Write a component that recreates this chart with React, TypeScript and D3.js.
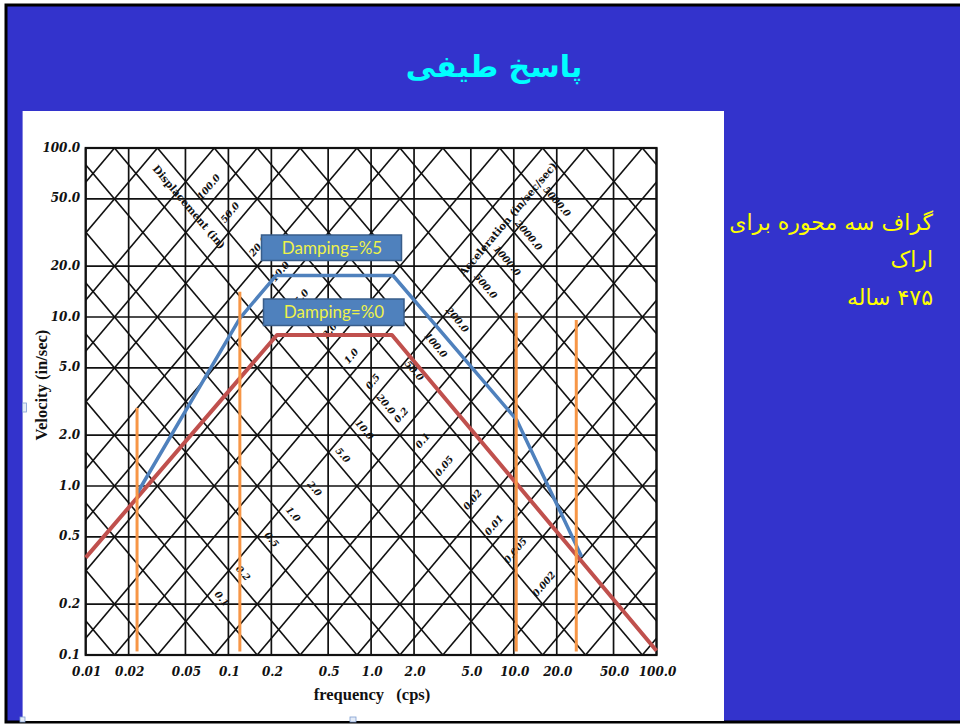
import React from "react";
import * as d3 from "d3";

// Axis ticks of the tripartite (log-log) spectrum chart
const freqTicks = [0.01, 0.02, 0.05, 0.1, 0.2, 0.5, 1, 2, 5, 10, 20, 50, 100];
const freqTickLabels = ["0.01", "0.02", "0.05", "0.1", "0.2", "0.5", "1.0", "2.0", "5.0", "10.0", "20.0", "50.0", "100.0"];
const velTicks = [0.1, 0.2, 0.5, 1, 2, 5, 10, 20, 50, 100];
const velTickLabels = ["0.1", "0.2", "0.5", "1.0", "2.0", "5.0", "10.0", "20.0", "50.0", "100.0"];

// Diagonal grid: 1-2-5 steps per decade for displacement (in) and acceleration (in/sec/sec)
const gridSteps = [1, 2, 5];
const dispDecades = [-4, -3, -2, -1, 0, 1, 2, 3];
const accDecades = [-3, -2, -1, 0, 1, 2, 3, 4];

const dispValues = [100, 50, 20, 10, 5, 2, 1, 0.5, 0.2, 0.1, 0.05, 0.02, 0.01, 0.005, 0.002];
const dispLabels = ["100.0", "50.0", "20.0", "10.0", "5.0", "2.0", "1.0", "0.5", "0.2", "0.1", "0.05", "0.02", "0.01", "0.005", "0.002"];
const accValues = [5000, 2000, 1000, 500, 200, 100, 50, 20, 10, 5, 2, 1, 0.5, 0.2, 0.1];
const accLabels = ["5000.0", "2000.0", "1000.0", "500.0", "200.0", "100.0", "50.0", "20.0", "10.0", "5.0", "2.0", "1.0", "0.5", "0.2", "0.1"];

// Design spectra (frequency in cps, velocity in in/sec)
const undampedFreq = [0.01, 0.219, 1.4, 100];
const undampedVel = [0.377, 7.83, 7.83, 0.106];
const dampedFreq = [0.023, 0.1206, 0.2156, 1.424, 10.48, 29.9];
const dampedVel = [0.909, 9.86, 17.6, 17.6, 2.46, 0.382];

// Vertical period markers
const markerFreq = [0.0229, 0.1203, 10.4, 27.4];
const markerTopVel = [2.9, 14.1, 10.6, 9.6];
const markerBaseVel = 0.105;

const TWO_PI = 2 * Math.PI;
const W = 960;
const H = 725;

const numFont = "'DejaVu Serif', serif";
const titleFont = "'Liberation Serif', serif";
const arabicFont = "'DejaVu Sans', sans-serif";

export default function App() {
  const x = d3.scaleLog().domain([0.01, 100]).range([85.7, 656.5]);
  const y = d3.scaleLog().domain([0.1, 100]).range([655, 148]);
  const [x0, x1] = x.range();
  const [y0, y1] = y.range();

  const line = d3
    .line<[number, number]>()
    .x((d) => x(d[0]))
    .y((d) => y(d[1]));

  const dispGrid: number[] = [];
  dispDecades.forEach((k) => gridSteps.forEach((s) => dispGrid.push(s * Math.pow(10, k))));
  const accGrid: number[] = [];
  accDecades.forEach((k) => gridSteps.forEach((s) => accGrid.push(s * Math.pow(10, k))));

  const fLo = 0.0005;
  const fHi = 2000;

  // pixel angle of a slope +1 line in log-log space
  const ang = (Math.atan((y0 - y1) / 3 / ((x1 - x0) / 4)) * 180) / Math.PI;

  const dispLabelPos = dispValues.map((D) => {
    const k = Math.log10(TWO_PI * D) + 0.11;
    const c = 0.63;
    const u = (c - k) / 2;
    const w = (c + k) / 2;
    return [x(Math.pow(10, u)), y(Math.pow(10, w))];
  });
  const accLabelPos = accValues.map((A) => {
    const k = Math.log10(A / TWO_PI) + 0.085;
    const c = 0.38;
    const u = (k - c) / 2;
    const w = (k + c) / 2;
    return [x(Math.pow(10, u)), y(Math.pow(10, w))];
  });

  const undamped = undampedFreq.map((f, i) => [f, undampedVel[i]] as [number, number]);
  const damped = dampedFreq.map((f, i) => [f, dampedVel[i]] as [number, number]);

  return (
    <svg
      width={W}
      height={H}
      style={{ position: "absolute", left: 0, top: 0, background: "#fff" }}
    >
      <defs>
        <clipPath id="plot-area">
          <rect x={x0} y={y1} width={x1 - x0} height={y0 - y1} />
        </clipPath>
      </defs>

      {/* slide background */}
      <rect x={6} y={5} width={980} height={717} fill="#3333CC" stroke="#000" strokeWidth={3} />

      {/* slide title */}
      <text
        x={494}
        y={77}
        fill="#00FFFF"
        fontFamily={arabicFont}
        fontWeight="bold"
        fontSize={30}
        textAnchor="middle"
        direction="rtl"
      >
        پاسخ طیفی
      </text>

      {/* side note */}
      <g fill="#FFFF00" fontFamily={arabicFont} fontSize={22} direction="rtl" textAnchor="start">
        <text x={933} y={230}>گراف سه محوره برای</text>
        <text x={933} y={267}>اراک</text>
        <text x={933} y={305}>۴۷۵ ساله</text>
      </g>

      {/* chart panel */}
      <rect x={22.6} y={111} width={701.4} height={610} fill="#fff" />

      {/* rectangular grid */}
      <g stroke="#111" strokeWidth={1.7}>
        {freqTicks.map((f) => (
          <line key={"v" + f} x1={x(f)} x2={x(f)} y1={y1} y2={y0} />
        ))}
        {velTicks.map((v) => (
          <line key={"h" + v} x1={x0} x2={x1} y1={y(v)} y2={y(v)} />
        ))}
      </g>

      {/* diagonal grid */}
      <g clipPath="url(#plot-area)" stroke="#111" strokeWidth={1.6} fill="none">
        {dispGrid.map((D) => (
          <path key={"d" + D} d={line([[fLo, TWO_PI * fLo * D], [fHi, TWO_PI * fHi * D]]) || ""} />
        ))}
        {accGrid.map((A) => (
          <path key={"a" + A} d={line([[fLo, A / (TWO_PI * fLo)], [fHi, A / (TWO_PI * fHi)]]) || ""} />
        ))}
      </g>
      <rect x={x0} y={y1} width={x1 - x0} height={y0 - y1} fill="none" stroke="#111" strokeWidth={2.2} />

      {/* diagonal scale labels */}
      <g fontFamily={numFont} fontWeight="bold" fontStyle="italic" fontSize={9.5} fill="#111" textAnchor="middle">
        {dispLabelPos.map(([px, py], i) => (
          <text key={"dl" + i} x={px} y={py} dy="0.35em" transform={`rotate(${-ang} ${px} ${py})`}>
            {dispLabels[i]}
          </text>
        ))}
        {accLabelPos.map(([px, py], i) => (
          <text key={"al" + i} x={px} y={py} dy="0.35em" transform={`rotate(${ang} ${px} ${py})`}>
            {accLabels[i]}
          </text>
        ))}
      </g>
      <g fontFamily={numFont} fontWeight="bold" fontSize={10.5} fill="#111" textAnchor="middle">
        <text x={189} y={207} dy="0.35em" transform={`rotate(${ang} 189 207)`}>
          Displacement (in)
        </text>
        <text x={508} y={219} dy="0.35em" transform={`rotate(${-ang} 508 219)`}>
          Acceleration (in/sec/sec)
        </text>
      </g>

      {/* tick labels */}
      <g fontFamily={numFont} fontWeight="bold" fontStyle="italic" fontSize={12} fill="#111">
        {velTicks.map((v, i) => (
          <text key={"vl" + v} x={80} y={y(v)} dy="0.3em" textAnchor="end">
            {velTickLabels[i]}
          </text>
        ))}
        {freqTicks.map((f, i) => (
          <text key={"fl" + f} x={x(f) + 1} y={676} textAnchor="middle">
            {freqTickLabels[i]}
          </text>
        ))}
      </g>

      {/* axis titles */}
      <g fontFamily={titleFont} fontWeight="bold" fontSize={16.5} fill="#111">
        <text x={372} y={700} textAnchor="middle" xmlSpace="preserve">
          frequency   (cps)
        </text>
        <text x={47} y={385} textAnchor="middle" transform="rotate(-90 47 385)">
          Velocity  (in/sec)
        </text>
      </g>

      {/* spectra */}
      <path d={line(undamped) || ""} fill="none" stroke="#C0504D" strokeWidth={4} strokeLinejoin="round" />
      <path d={line(damped) || ""} fill="none" stroke="#4F81BD" strokeWidth={3.5} strokeLinejoin="round" />

      {/* period markers */}
      <g stroke="#F79646" strokeWidth={3}>
        {markerFreq.map((f, i) => (
          <line key={"m" + f} x1={x(f)} x2={x(f)} y1={y(markerTopVel[i])} y2={y(markerBaseVel)} />
        ))}
      </g>

      {/* damping callouts */}
      <g fontFamily="Lato, 'Open Sans', sans-serif" fontSize={17} fill="#EEF24A" textAnchor="middle">
        <rect x={261.5} y={235} width={140} height={25.5} fill="#4F81BD" stroke="#385D8A" strokeWidth={1.5} />
        <text x={332} y={253.5}>Damping=%5</text>
        <rect x={263.5} y={299} width={140.5} height={26.5} fill="#4F81BD" stroke="#385D8A" strokeWidth={1.5} />
        <text x={334} y={318}>Damping=%0</text>
      </g>

      {/* selection handles */}
      <g fill="#E4ECF8" stroke="#7F9FD0" strokeWidth={0.8}>
        <rect x={22.5} y={403} width={4} height={9} />
        <rect x={350} y={717} width={6} height={5} />
        <rect x={20} y={717} width={5} height={5} />
      </g>
    </svg>
  );
}
